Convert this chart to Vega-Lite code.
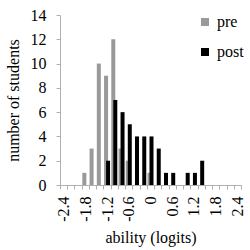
{
  "$schema": "https://vega.github.io/schema/vega-lite/v6.json",
  "width": 181,
  "height": 170,
  "autosize": "none",
  "padding": {"left": 60, "top": 15, "right": 9, "bottom": 65},
  "background": "white",
  "config": {
    "view": {"stroke": null},
    "font": "Liberation Serif",
    "axis": {"grid": false, "domainColor": "#b0b0b0", "tickColor": "#b0b0b0", "labelColor": "#000000", "titleColor": "#000000", "titleFontWeight": "normal", "tickSize": 4, "labelFont": "Liberation Serif", "labelFontSize": 16, "titleFont": "Liberation Serif", "titleFontSize": 16},
    "legend": {"labelFont": "Liberation Serif", "labelFontSize": 16, "labelColor": "#000000"}
  },
  "data": {
    "values": [
      {"bin": -1.8, "group": "pre", "n": 1},
      {"bin": -1.6, "group": "pre", "n": 3},
      {"bin": -1.4, "group": "pre", "n": 10},
      {"bin": -1.2, "group": "pre", "n": 9},
      {"bin": -1.0, "group": "pre", "n": 12},
      {"bin": -0.8, "group": "pre", "n": 3},
      {"bin": -0.6, "group": "pre", "n": 2},
      {"bin": 0, "group": "pre", "n": 1},
      {"bin": -1.2, "group": "post", "n": 2},
      {"bin": -1.0, "group": "post", "n": 7},
      {"bin": -0.8, "group": "post", "n": 6},
      {"bin": -0.6, "group": "post", "n": 5},
      {"bin": -0.4, "group": "post", "n": 4},
      {"bin": -0.2, "group": "post", "n": 4},
      {"bin": 0, "group": "post", "n": 4},
      {"bin": 0.2, "group": "post", "n": 3},
      {"bin": 0.4, "group": "post", "n": 1},
      {"bin": 0.6, "group": "post", "n": 1},
      {"bin": 1.0, "group": "post", "n": 1},
      {"bin": 1.2, "group": "post", "n": 1},
      {"bin": 1.4, "group": "post", "n": 2}
    ]
  },
  "encoding": {
    "x": {
      "field": "bin",
      "type": "ordinal",
      "scale": {"domain": [-2.4, -2.2, -2.0, -1.8, -1.6, -1.4, -1.2, -1.0, -0.8, -0.6, -0.4, -0.2, 0, 0.2, 0.4, 0.6, 0.8, 1.0, 1.2, 1.4, 1.6, 1.8, 2.0, 2.2, 2.4], "paddingInner": 0, "paddingOuter": 0},
      "axis": {"title": "ability (logits)", "labelAngle": -90, "tickBand": "extent", "labelPadding": 7, "titlePadding": 8, "labelExpr": "abs(round(datum.value*10)) % 6 == 0 ? datum.label : ''"}
    },
    "y": {
      "field": "n",
      "type": "quantitative",
      "scale": {"domain": [0, 14], "nice": false},
      "axis": {"title": "number of students", "values": [0, 2, 4, 6, 8, 10, 12, 14], "labelPadding": 10, "titlePadding": 9}
    },
    "color": {
      "field": "group",
      "type": "nominal",
      "scale": {"domain": ["pre", "post"], "range": ["#999999", "#000000"]},
      "legend": {"title": null, "orient": "none", "legendX": 137, "legendY": -1, "symbolType": "square", "symbolSize": 64, "symbolStrokeWidth": 0, "rowPadding": 14, "labelOffset": 4}
    }
  },
  "layer": [
    {"transform": [{"filter": "datum.group == 'pre'"}], "mark": {"type": "bar", "width": 4, "xOffset": -1}},
    {"transform": [{"filter": "datum.group == 'post'"}], "mark": {"type": "bar", "width": 4, "xOffset": 1}}
  ]
}
